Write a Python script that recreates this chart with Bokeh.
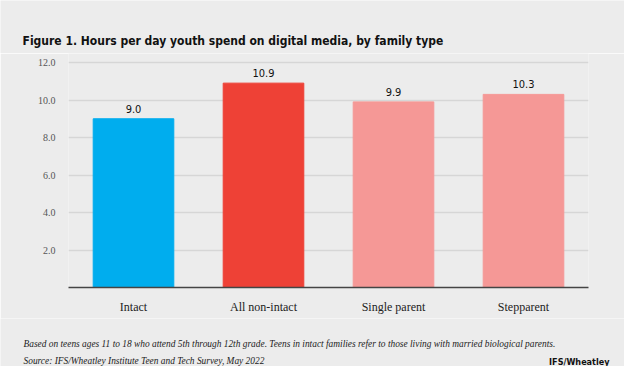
from bokeh.plotting import figure
from bokeh.layouts import column
from bokeh.models import ColumnDataSource, Range1d, FixedTicker, NumeralTickFormatter, LabelSet, Label
from bokeh.core.properties import value
from bokeh.embed import file_html
from bokeh.resources import INLINE

categories = ["Intact", "All non-intact", "Single parent", "Stepparent"]
values = [9.0, 10.9, 9.9, 10.3]
colors = ["#00adee", "#ee4136", "#f59896", "#f59896"]
yticks = [2, 4, 6, 8, 10, 12]

title = "Figure 1. Hours per day youth spend on digital media, by family type"
note1 = "Based on teens ages 11 to 18 who attend 5th through 12th grade. Teens in intact families refer to those living with married biological parents."
note2 = "Source: IFS/Wheatley Institute Teen and Tech Survey, May 2022"
brand = "IFS/Wheatley"

BG = "#ececec"
COND = "'Liberation Sans Narrow', 'DejaVu Sans Condensed', Roboto"
W = 624


def blank(h):
    f = figure(width=W, height=h, x_range=Range1d(0, W), y_range=Range1d(0, h),
               output_backend="svg", toolbar_location=None,
               x_axis_type=None, y_axis_type=None, frame_align=False,
               min_border_left=0, min_border_right=0, min_border_top=0, min_border_bottom=0)
    f.title = None
    f.background_fill_color = BG
    f.border_fill_color = BG
    f.outline_line_color = None
    f.xgrid.visible = False
    f.ygrid.visible = False
    return f


# header
head = blank(53)
head.add_layout(Label(x=22, y=13, text=title, text_font=COND, text_font_size="12px",
                      text_font_style="bold", text_color="#111111", text_baseline="alphabetic"))

# main chart
src = ColumnDataSource(dict(cat=categories, val=values, col=colors,
                            lab=[f"{v:.1f}" for v in values]))
p = figure(x_range=categories, y_range=Range1d(0, 12.48), width=W, height=265,
           output_backend="svg", toolbar_location=None, frame_align=False,
           min_border_left=68, min_border_right=36, min_border_top=0, min_border_bottom=31)
p.title = None
p.x_range.range_padding = 0
p.background_fill_color = BG
p.border_fill_color = BG
p.outline_line_color = None

p.vbar(x="cat", top="val", width=0.62, color="col", source=src)

p.xgrid.grid_line_color = None
p.ygrid.grid_line_color = "#d6d6d6"
p.ygrid.grid_line_width = 1.5

p.yaxis.ticker = FixedTicker(ticks=yticks)
p.yaxis.formatter = NumeralTickFormatter(format="0.0")
p.yaxis.axis_line_color = None
p.yaxis.major_tick_line_color = None
p.yaxis.minor_tick_line_color = None
p.yaxis.major_label_standoff = 7
p.yaxis.major_label_text_font = "Liberation Serif"
p.yaxis.major_label_text_font_size = "10px"
p.yaxis.major_label_text_color = "#555555"

p.xaxis.axis_line_color = "#444444"
p.xaxis.axis_line_width = 1.5
p.xaxis.major_tick_line_color = None
p.xaxis.minor_tick_line_color = None
p.xaxis.major_label_standoff = 6
p.xaxis.major_label_text_font = "Liberation Serif"
p.xaxis.major_label_text_font_size = "12px"
p.xaxis.major_label_text_color = "#222222"

labels = LabelSet(x="cat", y="val", text="lab", source=src, y_offset=6,
                  text_align="center", text_baseline="alphabetic",
                  text_font=value(COND), text_font_size=value("11px"),
                  text_color="#111111")
p.add_layout(labels)

# footer
foot = blank(48)
foot.add_layout(Label(x=23, y=23, text=note1, text_font="Liberation Serif",
                      text_font_size="9.4px", text_font_style="italic",
                      text_color="#222222", text_baseline="alphabetic"))
foot.add_layout(Label(x=23, y=6, text=note2, text_font="Liberation Serif",
                      text_font_size="9.4px", text_font_style="italic",
                      text_color="#222222", text_baseline="alphabetic"))
foot.add_layout(Label(x=609, y=5, text=brand, text_font=COND, text_font_size="9px",
                      text_font_style="bold", text_color="#111111", text_align="right",
                      text_baseline="alphabetic"))

layout = column(head, p, foot, spacing=0)
open("out.html", "w").write(file_html(layout, INLINE))
